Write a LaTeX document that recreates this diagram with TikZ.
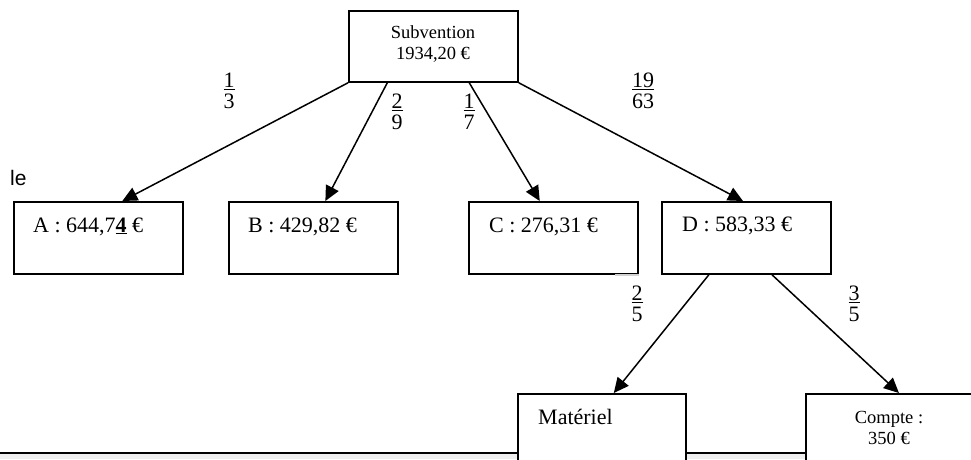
\documentclass[tikz,border=0pt]{standalone}
\usepackage{fontspec}
\setmainfont{Liberation Serif}
\newfontfamily\sansle{Liberation Sans}
\usetikzlibrary{arrows.meta,calc,positioning}
\newcommand{\frc}[2]{\begin{tabular}{@{}c@{}}\underline{#1}\\[-5pt]#2\end{tabular}}

\begin{document}
\begin{tikzpicture}[x=1pt,y=-1pt,
  box/.style={draw,line width=1.8pt,fill=white,inner sep=0,anchor=north west,minimum width=169pt},
  grand/.style={font=\fontsize{22}{26}\selectfont},
  petit/.style={font=\fontsize{18.5}{21}\selectfont},
  fleche/.style={-{Triangle[length=15pt,width=14pt]},line width=1.5pt}]
\clip (0,0) rectangle (971,459);
\fill[white] (0,0) rectangle (971,459);
\fill[gray!13] (0,454) rectangle (971,459);
\draw[line width=2pt] (0,453)--(971,453);
\node[box,minimum height=71pt] (sub) at (348,10) {};
\node[box,minimum height=72pt] (a) at (13,201) {};
\node[box,minimum height=72pt] (b) at (228,201) {};
\node[box,minimum height=72pt] (c) at (468,201) {};
\draw[gray!35,line width=1.8pt] ($(c.south east)+(-24,0)$)--(c.south east);
\node[box,minimum height=72pt] (d) at (661,201) {};
\node[box,minimum height=90pt,minimum width=168pt] (mat) at (517,393) {};
\node[box,minimum height=90pt] (cpt) at (805,393) {};
\node[petit,align=center] (subt) at (433,44) {Subvention\\ 1934,20 €};
\node[grand,anchor=base west,inner sep=0] (at) at (33,232) {A : 644,7\underline{\textbf{4}} €};
\node[grand,anchor=base west,inner sep=0] (bt) at (248,232) {B : 429,82 €};
\node[grand,anchor=base west,inner sep=0] (ct) at (489,232) {C : 276,31 €};
\node[grand,anchor=base west,inner sep=0] (dt) at (682,231) {D : 583,33 €};
\node[grand,anchor=base west,inner sep=0] (matt) at (538,424) {Matériel};
\node[petit,align=center] (cptt) at (889,428) {Compte :\\ 350 €};
\node[font=\sansle\fontsize{21}{25}\selectfont,anchor=base west,inner sep=0] (le) at (10,185) {le};
% branches
\draw[fleche] (sub.south west)--($(a.north west)!.64!(a.north east)$);
\draw[fleche] ($(sub.south west)!.23!(sub.south east)$)--($(b.north west)!.57!(b.north east)$);
\draw[fleche] ($(sub.south west)!.71!(sub.south east)$)--($(c.north west)!.42!(c.north east)$);
\draw[fleche] (sub.south east)--($(d.north west)!.48!(d.north east)$);
\draw[fleche] ($(d.south west)!.28!(d.south east)$)--($(mat.north west)!.57!(mat.north east)$);
\draw[fleche] ($(d.south west)!.65!(d.south east)$)--($(cpt.north west)!.55!(cpt.north east)$);
\node[grand] (fa) at (229,93) {\frc{1}{3}};
\node[grand] (fb) at (397,114) {\frc{2}{9}};
\node[grand] (fc) at (469,114) {\frc{1}{7}};
\node[grand] (fd) at (643,93) {\frc{19}{63}};
\node[grand] (fm) at (637,306) {\frc{2}{5}};
\node[grand] (fk) at (854,306) {\frc{3}{5}};
\end{tikzpicture}
\end{document}
